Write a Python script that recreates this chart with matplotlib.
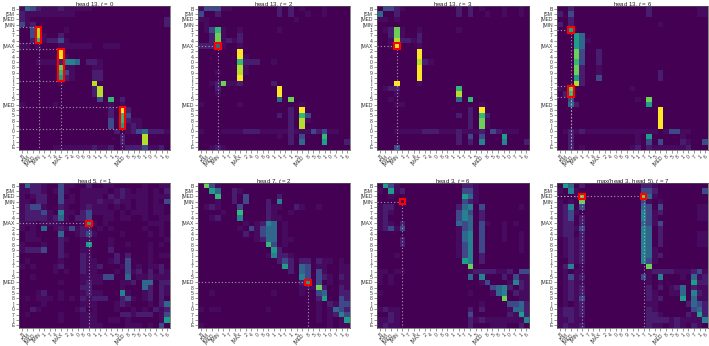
import matplotlib
matplotlib.use("Agg")
import matplotlib.pyplot as plt
from matplotlib.patches import Rectangle
import numpy as np

plt.rcParams["font.family"] = ["Liberation Sans", "DejaVu Sans"]
plt.rcParams["mathtext.fontset"] = "custom"
plt.rcParams["mathtext.it"] = "Liberation Sans:italic"

Y_LABELS = ["B", "[SM", "[MED", "[MIN", "1", "7", "4", "[MAX", "2", "4", "0", "8", "9",
            "]", "]", "7", "]", "5", "[MED", "8", "5", "8", "]", "0", "7", "]", "E"]
X_LABELS = ["B", "[SM", "[MED", "[MIN", "1", "7", "4", "[MAX", "2", "4", "0", "8", "9",
            "1", "1", "7", "1", "5", "[MED", "8", "5", "8", "1", "0", "7", "1", "6"]

TITLES = [
    "head 13, $t$ = 0", "head 13, $t$ = 2", "head 13, $t$ = 3", "head 13, $t$ = 6",
    "head 5, $t$ = 1", "head 7, $t$ = 2", "head 3, $t$ = 6", "max(head 3, head 5), $t$ = 7",
]

# cell intensity per row: "." = 0, "-" = very faint, 1-9 = tenths of the colour scale
# columns grouped in fives, short rows are padded with zeros
HEAD13_T0 = [
    "-321- --1-- ---.. ..... ..... ..",
    "1---- ----- ..... ..... ..... ..",
    "1-... ..... ..... ..... ..... .1",
    "2-1.. ..... ..... ..... ..... .1",
    "..28. ...-. ",
    "..28- ..1.. ",
    "..16- 112-. ",
    "--.-. ..--- ---.. ---",
    "..... ..9.. ",
    "..... ..9-. ",
    "...-- --144 3.11- ",
    "..... ..7-- ...-- ",
    "..... ..62- ...11 ",
    "..... ..51- ...11 ",
    "..... ..-.. ...8. ",
    "..... ..... ...18 ",
    "..... ..... ...18 ",
    "..... ..... ....2 .6.1.",
    "-.... .-... ..... .-.-.",
    "..... ..... ..... .1.91",
    "..... ..... ..... .1.62",
    "..... ..... ..... .2.61 --",
    "..... ..... ..... .2.5- 1-",
    "..... ..... ..... ..1.- 12311 1-",
    "..... ..... ..... ...1. ..8..",
    "..... ..... ..... ...1. ..8..",
    "..... .---- ---1- -1.-1 112-- 1.",
]
HEAD13_T2 = [
    "-222- -.... ....1 .1.-. ..-..",
    "2..1. ..... ....1 .1..- ..-..",
    "--... ..... ..... ..-",
    ".-...",
    ".-26- ..-.. ....-",
    "..17- ..1..",
    "..17- 1-1..",
    "1113- ..-..",
    "..... ..9..",
    "..... ..9-.",
    "..... ..611 1..-.",
    "..... ..8-.",
    "...-. ..8-.",
    "..... ..9..",
    "..-17 --1.. ...1.",
    "...1. ..... ....9",
    "...-. ..... ....9",
    "..... ..... ....3 .7",
    "-.... ..-.. ..... ...-",
    "..... ..... ..... .1.9.",
    "..... ..... ....1 .1.62",
    "..... ..... ..... .1.8-",
    "..... ..... ..... .1.8.",
    "-...- ---11 1---- -1--- 212-- .",
    "..... ..... ....- .1.2. ..6..",
    "..... ..... ..... .1.3. ..5.. .1",
    "..-1-",
]
HEAD13_T3 = [
    ".221- ..... ....1 .1.-. ..-.. -",
    "3..1. ..... ....1 .1..- ..-.. -",
    "--.-.",
    ".....",
    ".-17- ..-.. ....-",
    "..17- ..1..",
    "..-81 1-1..",
    "..-9. ..-..",
    "..... ..9..",
    "..... ..9..",
    "..... ..81- ...",
    "..... ..9..",
    "..... ..9..",
    "..... ..9..",
    "...9. ..-..",
    ".-11. ..... ....6",
    "...-. ..... ....8",
    "..-.. ..... ....3 .6",
    "...-- ..... ..... ...-",
    "..... ..... ..... .1.9.",
    "..... ..... ....1 .1.61",
    "..... ..... ..... .1.7-",
    "..... ..... ..... .1.7-",
    "...-- ---11 1---1 ---1. 21--- .",
    "..... ..... ....1 .2.2. ..5..",
    "..... ..... ....1 .1.4. ..4.. .1",
    "...2.",
]
HEAD13_T6 = [
    "..1.. ..... ..... .1... ..... --",
    "1.2.. ..... ..... .1... ..... --",
    "..1..",
    "1.1.. ..... ..... ...-.",
    "..5..",
    "...53 .",
    "...53 -",
    "...53",
    "...72 ..1..",
    "...72 ..1..",
    "...62 ..1..",
    "...71 ..-..",
    "...71 ..-.. ..... ...1.",
    "...51 ..2.. ..... ...1.",
    "...81",
    "-.7.. ..... ...-.",
    ".16.. ..... ..",
    "..2.. ..... ....- .7",
    "..31. ..... ..... .5",
    "..... ..... ..... ...9.",
    "..... ..... ..... ...9.",
    "..... ..... ..... ...9.",
    "..... ..... ..... ...9.",
    ".-1-1 ----- ----- ---.- 22--.",
    "..1.. ..... ....- .5... ..-..",
    "..1.. ..... ....- .2.2. ..1-. .2",
    "..1.- ..... ...-1 .1--- ---1.",
]
HEAD5_T1 = [
    "-311- ..2-- ..1.. --... ..-.. --",
    "--11- .-2-. .---- -.-1- .--.- .1",
    "-.-11 ..2.- .---- .1-1- ---.- --",
    "--.11 ..2-- .---1 --1-- .--.- .2",
    "-122- ..1-. .-1-- -.-.- .--.- -.",
    "-1112 -.4-- .12-- --.-. ---.- -.",
    "-1111 -13-. 112.. --.-- ..-.. --",
    "---.- ---.. .-5-. -.... ...-- -.",
    "-.-.3 .-1-2 -11.- .-... ..-.. -.",
    ".--.. ..3.. -12-. ...-. ...-. -.",
    ".---. ..1-. .--.. .-... ..... .-",
    "-...- ..1.. .-5.. .-..- ...-. -.",
    "-1112 ..1.. .--.. .1... ...-. ..",
    "..... ..1-. .1-.. ..1.1 ...-. --",
    ".-... ..-.. .1--. .-1.2 ...-. ..",
    "-.-.. .-1.. .1--1 ...-2 .-.-- 1.",
    "..... .-.-. .1--. ..-.2 -1.1. 1-",
    "..-.. ..... .---- 22..3 .--1- --",
    "..... ..-.. .-1-- ...-- 1.33. 11",
    "..... ..... .11.. ...-. ..31. 1-",
    "...-1 ..-.. .-1-- ...4- ..-1. 1-",
    ".-.-- -.-.- .1-11 1..12 -.-1. 1.",
    "....- ..... .---. ..-1- ...-. 13",
    "..1-. ..... -1.-. ..-.. -.-.1 -1",
    ".-... ..-.. .---. ...11 -111. -2",
    "..... ..-.. .---. .--.- ..... -5",
    "..... ..... .---- ....- --.-. 2.",
]
HEAD7_T2 = [
    ".72-. ..... ..... ...",
    "..53. .1-.. .....",
    "...6. .1.2. ....1",
    "...-. .1.2. ..1.4 .",
    ".-1-. ..2.. ..1-- ..1-. .-",
    "....- ..6.. ..1-. .-",
    "..-1. ..4.. ..1-- .",
    "..... ...-. -143. -",
    "..... ..-.2 -233. -",
    "..... ...1. -233. -.",
    "..... ..... -133. --",
    "..... ..... ..62. -.",
    "..... ..... ...51 ..",
    "..... ..... ..-41 1-",
    "..... ..... ....1 21.11 .1--. -",
    "..... ..... ..... 51.32 .--.. --",
    "..... ..... ..... .1.32 .2-.. --",
    "..... ..... ..... ...42 .21-. 1-",
    "..... ..... ..... ...15 .2.-. --",
    "..... ..... ..... ...-- -71.. 1-",
    "..-.. ..... ...-. ...-. .23.. 11",
    "..... ..... ..... ..... .15.. 21",
    "..... ..... ..... ..... .-.1- 22",
    "-.--. ..... ..-.. ..... .-.-3 21",
    "..... ..... ..... ..... .-.-1 42",
    "..... ..... ..... ..... .-.-. -5",
    "-.... ..... ..... ..... ...-. --",
]
HEAD3_T6 = [
    ".52-. ..... ..... 11-.. ..... ..",
    "-.5-1 ..... ..... 22-.. ..... ..",
    "..-.. ..... ..... 53-.. ..... ..",
    "..... ..... ..... 21-..",
    "-11.. ..... ....1 34.2. ..... -.",
    "-1-.. ..... ....2 42.1. ..... ..",
    "-1... ..... ....2 43.1. ..... ..",
    "-1-.1 ..... ....3 23.2- ..-.- ..",
    "-12-2 ..... ....- 23.2. ..-.. ..",
    "..... ..... ....- 34.2. ..-.. -.",
    "....1 ..... ....- 34.2. ..-.. -.",
    "....1 ..... ....- 24.2. ..... -.",
    "..... ..... ....- 24.2. ..... -.",
    "...-. ..... ....- 24.1. ..... ..",
    "..... ..... ..... 54.1. ..... ..",
    "..... ..... ..... .7...",
    "--.-- ..... ..... .-111 1--1. 22",
    "-.-.. ..... ..... .3.4. ..1.2 --",
    "-.-.. ..... ..... ...-2 ...-4 1-",
    "..... ..... ..... ..... 2341. 1-",
    "-.... ..... ..... .-... -34.1 --",
    "..... ..... ..... ..... ..7.. --",
    "..... ..... ..... ...-. ...22 31",
    "-1--. ..... ..... .1.1. ...-3 31",
    "..1-. ..... ..... .2... ...1- 51",
    "--1-. ..... ..... .1-1- ----- -4",
    "-1--. ..... ..... .1... ---.. 1.",
]
MAX35_T7 = [
    ".53.1 ..... ..... 11-.. ..... ..",
    "-.4-. ..... ..... 221.. ..... .2",
    "...-7 ..... ..... 73-.. ..... ..",
    "-.-.7 ..... ..... 2-.-.",
    "-14.2 ..... ..... 32.2. ..... --",
    "-12-. ..... ..... 42-1. ..... --",
    "-12.1 ..... ..... 42-.. ..... --",
    "-11.1 ..... ..... 32-2. ..... ..",
    "-11-2 ..... ..... 43.1. ..... ..",
    "-11.1 ..... ..... 43.1. ..... --",
    ".-1-1 ..... ..... 43.1. ..... --",
    ".-1-1 ..... ..... 43.1. ..... --",
    ".-1-1 ..... ..... 43-.. ..... ..",
    ".-1-1 ..... ..... 43-1. ..... ..",
    "..1-1 ..... ..... 42-.. ..... ..",
    ".14.- ..... ..... .7...",
    ".-.-- ..... ..... .-111 1---1 2-",
    ".-2-1 ..... ..... 2-.4. ..-.3 -1",
    ".-1-- ..... ..... .-.-. ....5 11",
    ".-1-1 ..... ..... .1.1. -13.1 --",
    ".-1-1 ..... ..... .1-.. --3.4 1-",
    ".-1-2 ..... ..... .1-1. ..5.3 --",
    ".-.-1 ..... ..... .--.. ...13 21",
    "-11-1 ..... ..... .1-.. ....2 31",
    "-11-1 ..... ..... .11-. ...1- 51",
    "--1-- ..... ..... .1111 -1--- -4",
    "-1--1 ..... ..... .1--. -1-.1 -.",
]
MATRICES = [HEAD13_T0, HEAD13_T2, HEAD13_T3, HEAD13_T6,
            HEAD5_T1, HEAD7_T2, HEAD3_T6, MAX35_T7]

# highlighted cells: (first row, last row, column)
MARKS = [
    [(4, 6, 3), (8, 13, 7), (19, 22, 18)],
    [(7, 7, 3)],
    [(7, 7, 3)],
    [(4, 4, 2), (15, 16, 2)],
    [(7, 7, 12)],
    [(18, 18, 19)],
    [(3, 3, 4)],
    [(2, 2, 4), (2, 2, 15)],
]

# axes boxes in pixels: left, right, top, bottom
AX_X = [(19, 170), (198, 350), (377, 529), (557, 708)]
AX_Y = [(6, 150), (183, 328)]
W, H = 709, 346


def parse(rows):
    levels = {".": 0.0, "-": 0.03, "1": 0.08}
    out = []
    for row in rows:
        s = "".join(row.split()).ljust(27, ".")
        out.append([levels[c] if c in levels else int(c) / 9 for c in s])
    return np.array(out)


fig = plt.figure(figsize=(W / 100, H / 100), dpi=100)

for i, (rows, title, marks) in enumerate(zip(MATRICES, TITLES, MARKS)):
    x0, x1 = AX_X[i % 4]
    y0, y1 = AX_Y[i // 4]
    ax = fig.add_axes([x0 / W, 1 - y1 / H, (x1 - x0) / W, (y1 - y0) / H])
    ax.imshow(parse(rows), cmap="viridis", vmin=0, vmax=1, aspect="auto",
              interpolation="nearest")
    ax.set_xticks(range(27))
    ax.set_yticks(range(27))
    ax.set_xticklabels(X_LABELS, rotation=45, ha="right", rotation_mode="anchor", fontsize=3.6)
    ax.set_yticklabels(Y_LABELS, fontsize=3.6)
    ax.tick_params(length=2, width=0.4, pad=1, color="#444444", labelcolor="#333333")
    # placed by hand, the top row sits right under the figure edge
    ax.text(0.5, 1.0, title, transform=ax.transAxes, ha="center", va="baseline",
            fontsize=4.4, color="#222222")
    for spine in ax.spines.values():
        spine.set_linewidth(0.5)
        spine.set_color("#555555")

    dots = dict(color="#c8c8c8", linestyle=(0, (1, 2)), linewidth=0.8, alpha=0.75, zorder=3)
    for r0, r1, c in marks:
        if r0 == r1:
            ax.plot([-0.5, c - 0.5], [r0, r0], **dots)
        else:
            ax.plot([-0.5, c - 0.5], [r0 - 0.5, r0 - 0.5], **dots)
            ax.plot([-0.5, c - 0.5], [r1 + 0.5, r1 + 0.5], **dots)
        ax.plot([c, c], [r1 + 0.5, 26.5], **dots)
        ax.add_patch(Rectangle((c - 0.5, r0 - 0.5), 1, r1 - r0 + 1, fill=False,
                               edgecolor="red", linewidth=1.5, zorder=4))
    ax.set_xlim(-0.5, 26.5)
    ax.set_ylim(26.5, -0.5)

fig.savefig("out.png", dpi=100)
